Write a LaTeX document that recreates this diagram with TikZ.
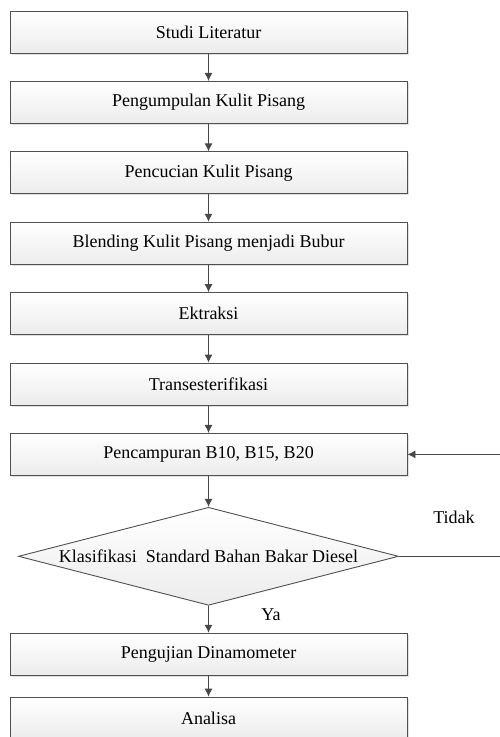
\documentclass[tikz,border=0pt]{standalone}
\usepackage{fontspec}
\setmainfont{Liberation Serif}
\usetikzlibrary{positioning, arrows.meta, shapes.geometric, shadows}
\definecolor{colEdge}{HTML}{505050}
\definecolor{colFill}{HTML}{ECECEC}
\definecolor{colLine}{HTML}{484848}

\begin{document}
\begin{tikzpicture}[
    x=1pt, y=1pt,
    font=\fontsize{18}{21}\selectfont,
    node distance=27.5pt,
    box/.style={draw=colEdge, line width=0.9pt, top color=white, bottom color=colFill,
                minimum width=397pt, minimum height=42pt, inner sep=0pt,
                drop shadow={shadow xshift=1.5pt, shadow yshift=-1.5pt, fill=black!12, opacity=1}},
    decision/.style={diamond, draw=colEdge, line width=0.9pt, top color=white, bottom color=colFill,
                minimum width=380pt, minimum height=98pt, aspect=3.9, inner sep=0pt},
    arr/.style={-{Latex[length=8pt, width=8pt]}, line width=0.9pt, draw=colLine},
    lbl/.style={inner sep=1pt},
]
\useasboundingbox (0,0) rectangle (500,-737);

% ---- Main vertical flow ----------------------------------------------------
\node[box] (studi) at (208.5,-32) {Studi Literatur};
\node[box, below=of studi] (kumpul) {Pengumpulan Kulit Pisang};
\node[box, below=of kumpul] (cuci) {Pencucian Kulit Pisang};
\node[box, below=of cuci] (blend) {Blending Kulit Pisang menjadi Bubur};
\node[box, below=of blend] (ekstrak) {Ektraksi};
\node[box, below=of ekstrak] (trans) {Transesterifikasi};
\node[box, below=of trans] (campur) {Pencampuran B10, B15, B20};

\node[decision, below=31pt of campur] (klas) {Klasifikasi~~Standard Bahan Bakar Diesel};

\node[box, below=27pt of klas] (uji) {Pengujian Dinamometer};
\node[box, below=21pt of uji] (analisa) {Analisa};

% ---- Arrows ----------------------------------------------------------------
\draw[arr] (studi) -- (kumpul);
\draw[arr] (kumpul) -- (cuci);
\draw[arr] (cuci) -- (blend);
\draw[arr] (blend) -- (ekstrak);
\draw[arr] (ekstrak) -- (trans);
\draw[arr] (trans) -- (campur);
\draw[arr] (campur) -- (klas);
\draw[arr] (klas) -- (uji);
\draw[arr] (uji) -- (analisa);

% ---- Return loop -----------------------------------------------------------
\coordinate (ret) at ([xshift=101pt]klas.east);
\draw[arr] (klas.east) -- (ret) |- (campur.east);

\node[lbl] (tidak) at (454,-517) {Tidak};
\node[lbl] (ya) at (271,-615) {Ya};

\end{tikzpicture}
\end{document}
